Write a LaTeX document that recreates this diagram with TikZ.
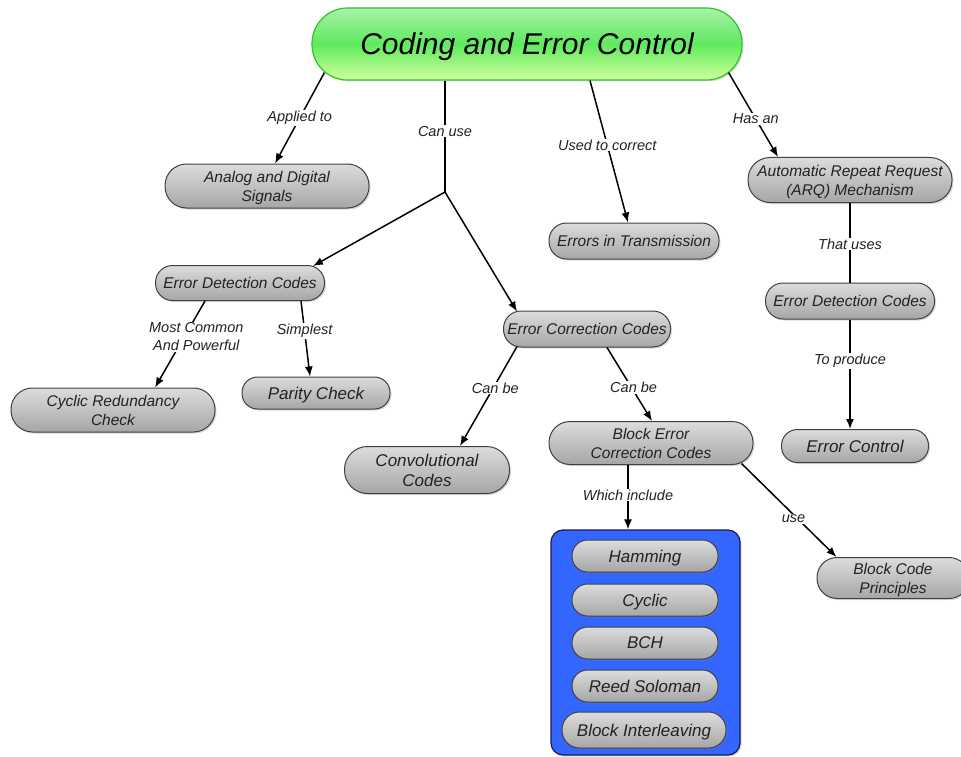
\documentclass[tikz,border=0pt]{standalone}
\usepackage{fontspec}
\setmainfont{Liberation Sans}
\usetikzlibrary{calc,arrows.meta,shadows}
\definecolor{txt}{HTML}{222222}
\definecolor{nodeborder}{HTML}{404040}
\definecolor{gtop}{HTML}{DCDCDC}
\definecolor{gbot}{HTML}{A6A6A6}
\definecolor{rtop}{HTML}{A8F2A8}
\definecolor{rmid}{HTML}{5FEA5F}
\definecolor{rbot}{HTML}{D2FF9C}
\definecolor{rborder}{HTML}{2DC42D}
\definecolor{bluefill}{HTML}{3366FF}
\definecolor{blueborder}{HTML}{1A1A50}
\tikzset{
  gbox/.style 2 args={rectangle, draw=nodeborder, line width=1pt,
    top color=gtop, bottom color=gbot,
    minimum width=#1, minimum height=#2, rounded corners=#2/2-0.5,
    inner sep=0pt, align=center, text=txt, text depth=0pt,
    drop shadow={shadow xshift=1.5pt, shadow yshift=-1.5pt, opacity=0.3}},
  tnorm/.style={font=\fontsize{15.5}{19}\selectfont\itshape},
  tbig/.style={font=\fontsize{17}{20}\selectfont\itshape},
  lbl/.style={fill=white, inner sep=1pt, text=txt, align=center,
    font=\fontsize{14.5}{18}\selectfont\itshape},
  conn/.style={line width=1.5pt, draw=black},
  arr/.style={conn, -{Latex[length=10pt,width=8pt]}},
}
\begin{document}
\begin{tikzpicture}[x=1pt,y=-1pt]
\useasboundingbox (0,0) rectangle (961,757);
% root
\node[rectangle, draw=rborder, line width=1.2pt, top color=rtop, bottom color=rbot, middle color=rmid,
  minimum width=430, minimum height=72, rounded corners=35.5, inner sep=0pt, text=black, text depth=0pt,
  font=\fontsize{30}{34}\selectfont\itshape,
  drop shadow={shadow xshift=1.5pt, shadow yshift=-1.5pt, opacity=0.3}]
  (root) at (527,44) {Coding and Error Control};
% nodes
\node[gbox={204}{44}, tnorm] (analog) at (267,186) {Analog and Digital\\Signals};
\node[gbox={170}{36}, tnorm] (errtx) at (634,241) {Errors in Transmission};
\node[gbox={204}{45}, tnorm] (arq) at (850,180) {Automatic Repeat Request\\(ARQ) Mechanism};
\node[gbox={169}{35}, tnorm] (edcL) at (240,283) {Error Detection Codes};
\node[gbox={167}{36}, tnorm] (ecc) at (587,329) {Error Correction Codes};
\node[gbox={169}{36}, tnorm] (edcR) at (850,301) {Error Detection Codes};
\node[gbox={204}{44}, tnorm] (crc) at (113,410) {Cyclic Redundancy\\Check};
\node[gbox={148}{32}, tbig] (parity) at (316,393) {Parity Check};
\node[gbox={165}{47}, tbig] (conv) at (427,470) {Convolutional\\Codes};
\node[gbox={204}{43}, tnorm] (becc) at (651,443) {Block Error\\Correction Codes};
\node[gbox={147}{33}, tbig] (errctl) at (855,446) {Error Control};
\node[gbox={152}{41}, tnorm] (bcp) at (893,578) {Block Code\\Principles};
% blue group
\node[rectangle, draw=blueborder, line width=1.2pt, fill=bluefill, rounded corners=12,
  minimum width=189, minimum height=225, inner sep=0pt,
  drop shadow={shadow xshift=1.5pt, shadow yshift=-1.5pt, opacity=0.3}] (blue) at (645.5,642.5) {};
\node[gbox={146}{32}, tbig] (hamming) at (645,556) {Hamming};
\node[gbox={146}{32}, tbig] (cyclic) at (645,600) {Cyclic};
\node[gbox={146}{32}, tbig] (bch) at (645,643) {BCH};
\node[gbox={146}{32}, tbig] (reed) at (645,686) {Reed Soloman};
\node[gbox={164}{36}, tbig] (blockint) at (644,730) {Block Interleaving};
% junction
\coordinate (J) at (445,192);
% connectors
\draw[arr] ($(root.south west)+(13,-8)$) -- node[lbl, pos=0.5] (l1) {Applied to} ($(analog.north)+(8,0)$);
\draw[conn] ($(root.south)+(-82,0)$) -- node[lbl, pos=0.455] (l2) {Can use} (J);
\draw[arr] (J) -- ($(edcL.north)+(73,1)$);
\draw[arr] (J) -- ($(ecc.north)+(-70,1)$);
\draw[arr] ($(root.south)+(63,0)$) -- node[lbl, pos=0.455] (l3) {Used to correct} ($(errtx.north)+(-6,0)$);
\draw[arr] ($(root.south east)+(-14,-8)$) -- node[lbl, pos=0.55] (l4) {Has an} ($(arq.north)+(-72,0)$);
\draw[conn] (arq.south) -- node[lbl, pos=0.515] (l5) {That uses} (edcR.north);
\draw[arr] (edcR.south) -- node[lbl, pos=0.38] (l6) {To produce} ($(errctl.north)+(-5,0)$);
\draw[arr] ($(edcL.south)+(-35,0)$) -- node[lbl, pos=0.414, xshift=12pt] (l7) {Most Common\\And Powerful} ($(crc.north)+(42,0)$);
\draw[arr] ($(edcL.south)+(61,0)$) -- node[lbl, pos=0.395] (l8) {Simplest} ($(parity.north)+(-6,0)$);
\draw[arr] ($(ecc.south)+(-70,-1)$) -- node[lbl, pos=0.416, xshift=2pt] (l9) {Can be} ($(conv.north)+(33,0)$);
\draw[arr] ($(ecc.south)+(20,0)$) -- node[lbl, pos=0.547, xshift=2pt] (l10) {Can be} ($(becc.north)+(1,0)$);
\draw[arr] ($(becc.south)+(-23,0)$) -- node[lbl, pos=0.466] (l11) {Which include} ($(blue.north)+(-17.5,0)$);
\draw[arr] ($(becc.south east)+(-12,-1.5)$) -- node[lbl, pos=0.59, xshift=-4pt] (l12) {use} ($(bcp.north west)+(20,0)$);
\end{tikzpicture}
\end{document}
